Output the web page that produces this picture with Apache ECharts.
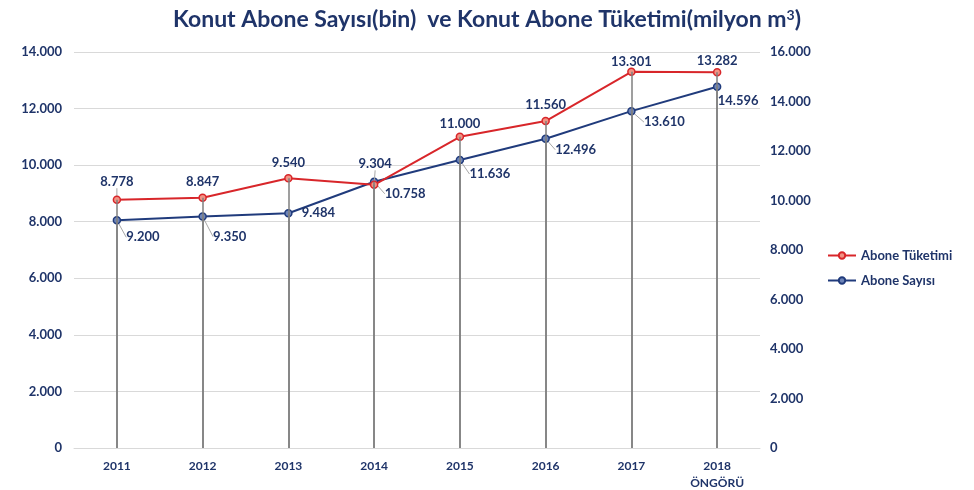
<!DOCTYPE html>
<html>
<head>
<meta charset="utf-8">
<script src="https://cdn.jsdelivr.net/npm/echarts@6/dist/echarts.min.js"></script>
<style>
  html, body { margin: 0; padding: 0; background: #ffffff; }
  #chart { width: 974px; height: 490px; }
</style>
</head>
<body>
<div id="chart"></div>
<script>
// Veriler
const years = ["2011", "2012", "2013", "2014", "2015", "2016", "2017", "2018\nÖNGÖRÜ"];
const tuketim = [8778, 8847, 9540, 9304, 11000, 11560, 13301, 13282]; // milyon m3, sol eksen
const aboneSayisi = [9200, 9350, 9484, 10758, 11636, 12496, 13610, 14596]; // bin, sağ eksen
const leftTicks = [0, 2000, 4000, 6000, 8000, 10000, 12000, 14000];
const rightTicks = [0, 2000, 4000, 6000, 8000, 10000, 12000, 14000, 16000];

const NAVY = "#1f3469";
const RED = "#d8262a";
const BLUE = "#203b7c";
const FONT = "Lato, 'Open Sans', sans-serif";

// label offsets (center relative to the marker), px
const redOffsets = [[0, -18], [0, -16], [0, -15], [1, -21], [0, -13], [0, -16], [0, -10], [0, -11]];
const blueOffsets = [[26, 17], [27, 20], [30, 0], [31, 12], [30, 14], [30, 11], [33, 11], [21, 14]];
const redLeader = [true, false, false, true, false, false, false, false];
const blueLeader = [true, true, false, true, true, true, true, false];

function fmt(v) {
  return new Intl.NumberFormat("de-DE").format(Number(v || 0));
}

function dropLines(values) {
  return values.map((v, i) => [
    { coord: [i, v] },
    { coord: [i, 0] },
  ]);
}

function layoutFor(offsets) {
  return (params) => {
    const r = params.rect;
    const o = offsets[params.dataIndex] || [0, 0];
    return {
      x: r.x + r.width / 2 + o[0],
      y: r.y + r.height / 2 + o[1],
      align: "center",
      verticalAlign: "middle",
    };
  };
}

const chart = echarts.init(document.getElementById("chart"));

chart.setOption({
  animation: false,
  textStyle: { fontFamily: FONT },
  title: {
    text: "Konut Abone Sayısı(bin)  ve Konut Abone Tüketimi(milyon m{sup|3})",
    left: "center",
    top: 3,
    textStyle: {
      fontFamily: FONT,
      fontSize: 23,
      fontWeight: "bold",
      color: NAVY,
      rich: {
        sup: { fontFamily: FONT, fontSize: 14, fontWeight: "bold", color: NAVY, verticalAlign: "top", padding: [0, 0, 10, 0] },
      },
    },
  },
  legend: {
    orient: "vertical",
    left: 822,
    top: 244,
    itemWidth: 28,
    itemHeight: 8,
    itemGap: 12,
    data: ["Abone Tüketimi", "Abone Sayısı"],
    textStyle: { fontFamily: FONT, fontSize: 13, fontWeight: "bold", color: NAVY },
  },
  grid: { left: 74, right: 214, top: 52, bottom: 42, outerBoundsMode: "none", containLabel: false },
  xAxis: {
    type: "category",
    data: years,
    boundaryGap: true,
    axisTick: { show: false },
    axisLine: { lineStyle: { color: "#d9d9d9", width: 1 } },
    axisLabel: {
      interval: 0,
      color: NAVY,
      fontFamily: FONT,
      fontSize: 12,
      fontWeight: "bold",
      margin: 10,
      lineHeight: 17,
    },
  },
  yAxis: [
    {
      type: "value",
      min: leftTicks[0],
      max: leftTicks[leftTicks.length - 1],
      interval: leftTicks[1] - leftTicks[0],
      axisLine: { show: false },
      axisTick: { show: false },
      axisLabel: { color: NAVY, fontFamily: FONT, fontSize: 13, fontWeight: "bold", margin: 12, formatter: fmt },
      splitLine: { lineStyle: { color: "#d9d9d9", width: 1 } },
    },
    {
      type: "value",
      position: "right",
      min: rightTicks[0],
      max: rightTicks[rightTicks.length - 1],
      interval: rightTicks[1] - rightTicks[0],
      axisLine: { show: false },
      axisTick: { show: false },
      axisLabel: { color: NAVY, fontFamily: FONT, fontSize: 13, fontWeight: "bold", margin: 10, formatter: fmt },
      splitLine: { show: false },
    },
  ],
  series: [
    {
      name: "Abone Sayısı",
      type: "line",
      yAxisIndex: 1,
      z: 3,
      data: aboneSayisi.map((v, i) => ({ value: v, labelLine: { show: blueLeader[i] } })),
      symbol: "circle",
      symbolSize: 7,
      lineStyle: { color: BLUE, width: 2 },
      itemStyle: { color: "#6d84b8", borderColor: BLUE, borderWidth: 1.5 },
      label: {
        show: true,
        position: "right",
        color: NAVY,
        fontFamily: FONT,
        fontSize: 13,
        fontWeight: "bold",
        formatter: ({ value }) => fmt(value),
      },
      labelLine: { show: true, lineStyle: { color: "#a6a6a6", width: 1 } },
      labelLayout: layoutFor(blueOffsets),
      markLine: {
        silent: true,
        symbol: "none",
        label: { show: false },
        lineStyle: { color: "#7f7f7f", width: 1.5, type: "solid" },
        data: dropLines(aboneSayisi),
      },
    },
    {
      name: "Abone Tüketimi",
      type: "line",
      yAxisIndex: 0,
      z: 4,
      data: tuketim.map((v, i) => ({ value: v, labelLine: { show: redLeader[i] } })),
      symbol: "circle",
      symbolSize: 7,
      lineStyle: { color: RED, width: 2 },
      itemStyle: { color: "#f29384", borderColor: RED, borderWidth: 1.5 },
      label: {
        show: true,
        position: "top",
        color: NAVY,
        fontFamily: FONT,
        fontSize: 13,
        fontWeight: "bold",
        formatter: ({ value }) => fmt(value),
      },
      labelLine: { show: true, lineStyle: { color: "#a6a6a6", width: 1 } },
      labelLayout: layoutFor(redOffsets),
      markLine: {
        silent: true,
        symbol: "none",
        label: { show: false },
        lineStyle: { color: "#7f7f7f", width: 1.5, type: "solid" },
        data: dropLines(tuketim),
      },
    },
  ],
});
</script>
</body>
</html>
